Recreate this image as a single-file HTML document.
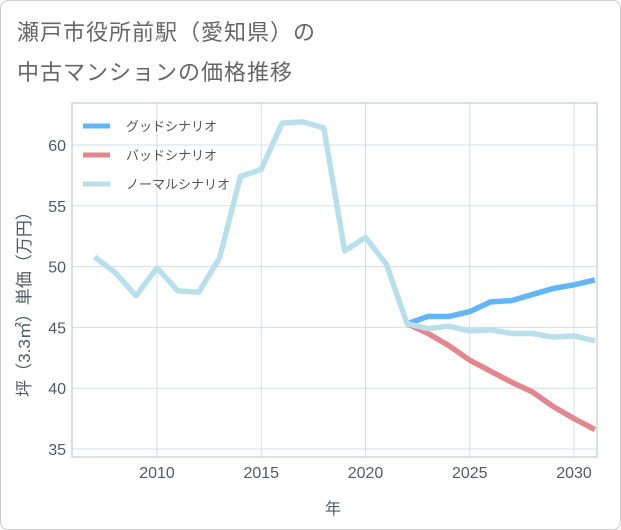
<!DOCTYPE html>
<html><head><meta charset="utf-8"><style>
body{margin:0;background:#fff;}
#card{position:absolute;left:0;top:0;width:619px;height:528px;border:1px solid #ccc;border-radius:8px;background:#fff;}
.t{position:absolute;left:17px;font:22px "Liberation Sans","Noto Sans CJK JP",sans-serif;color:#666;letter-spacing:1px;}
svg{position:absolute;left:0;top:0;}
text{font-family:"Liberation Sans","Noto Sans CJK JP",sans-serif;}
</style></head><body>
<div id="card"></div>
<div class="t" style="top:15px">瀬戸市役所前駅（愛知県）の</div>
<div class="t" style="top:55px">中古マンションの価格推移</div>
<svg width="621" height="530" id="chart"></svg>
<script>
const yearsNormal=[2007,2008,2009,2010,2011,2012,2013,2014,2015,2016,2017,2018,2019,2020,2021,2022,2023,2024,2025,2026,2027,2028,2029,2030,2031];
const normalValues=[50.8,49.5,47.6,49.9,48.0,47.9,50.7,57.4,58.0,61.8,61.9,61.4,51.3,52.4,50.2,45.3,44.9,45.1,44.7,44.8,44.5,44.5,44.2,44.3,43.9];
const yearsForecast=[2022,2023,2024,2025,2026,2027,2028,2029,2030,2031];
const goodValues=[45.3,45.9,45.9,46.3,47.1,47.2,47.7,48.2,48.5,48.9];
const badValues=[45.3,44.5,43.5,42.3,41.4,40.5,39.7,38.5,37.5,36.6];
const xTicks=[2010,2015,2020,2025,2030];
const yTicks=[35,40,45,50,55,60];
const legendLabels=["グッドシナリオ","バッドシナリオ","ノーマルシナリオ"];

const svg=document.getElementById('chart');
const NS='http://www.w3.org/2000/svg';
const L=72,R=597,T=103,B=457;
const X=y=>157+(y-2010)*(574-157)/20;
const Y=v=>145+(60-v)*(449-145)/25;
function mk(tag,a){const e=document.createElementNS(NS,tag);for(const k in a)e.setAttribute(k,a[k]);svg.appendChild(e);return e;}
xTicks.forEach(t=>{
 const g=mk('line',{x1:X(t),x2:X(t),y1:T,y2:B,stroke:'#d3dde8','stroke-width':1});
 
 
 const tx=mk('text',{x:X(t),y:478,'text-anchor':'middle','font-size':16,fill:'#4f5b66'});tx.textContent=t;
 
 
});
yTicks.forEach(t=>{
 const g=mk('line',{x1:L,x2:R,y1:Y(t),y2:Y(t),stroke:'#d3dde8','stroke-width':1});
 
 
 const tx=mk('text',{x:66,y:Y(t)+6,'text-anchor':'end','font-size':16,fill:'#4f5b66'});tx.textContent=t;
 
 
});
const fr=mk('rect',{x:L,y:T,width:R-L,height:B-T,fill:'none',stroke:'#b8c0c8'});


const defs=mk('defs',{});
const cp=document.createElementNS(NS,'clipPath');cp.setAttribute('id','clip');defs.appendChild(cp);
const cr=document.createElementNS(NS,'rect');cr.setAttribute('x',L);cr.setAttribute('y',T);cr.setAttribute('width',R-L);cr.setAttribute('height',B-T);cp.appendChild(cr);
function line(xs,vs,color,w,name){
 const p=mk('polyline',{points:xs.map((x,i)=>X(x)+','+Y(vs[i])).join(' '),fill:'none',stroke:color,'stroke-width':w,'stroke-linejoin':'round','clip-path':'url(#clip)'});
 
 
}
line(yearsForecast,goodValues,'#64b5f6',5.5,'good-scenario-line');
line(yearsForecast,badValues,'#e0878f',5.5,'bad-scenario-line');
line(yearsNormal,normalValues,'#b9dfea',5.5,'normal-scenario-line');
const lc=['#64b5f6','#e0878f','#b9dfea'];
legendLabels.forEach((s,i)=>{
 const y=126+i*29;
 const l=mk('line',{x1:83,x2:110,y1:y,y2:y,stroke:lc[i],'stroke-width':5});
 
 
 const tx=mk('text',{x:126,y:y+5,'font-size':13,fill:'#555'});tx.textContent=s;
 
 
});
const xt=mk('text',{x:333,y:514,'text-anchor':'middle','font-size':16,fill:'#4f5b66'});xt.textContent='年';


const yt=mk('text',{x:0,y:0,'text-anchor':'middle','font-size':17,fill:'#4f5b66',transform:'translate(30,300) rotate(-90)'});yt.textContent='坪（3.3㎡）単価（万円）';


</script>
</body></html>
